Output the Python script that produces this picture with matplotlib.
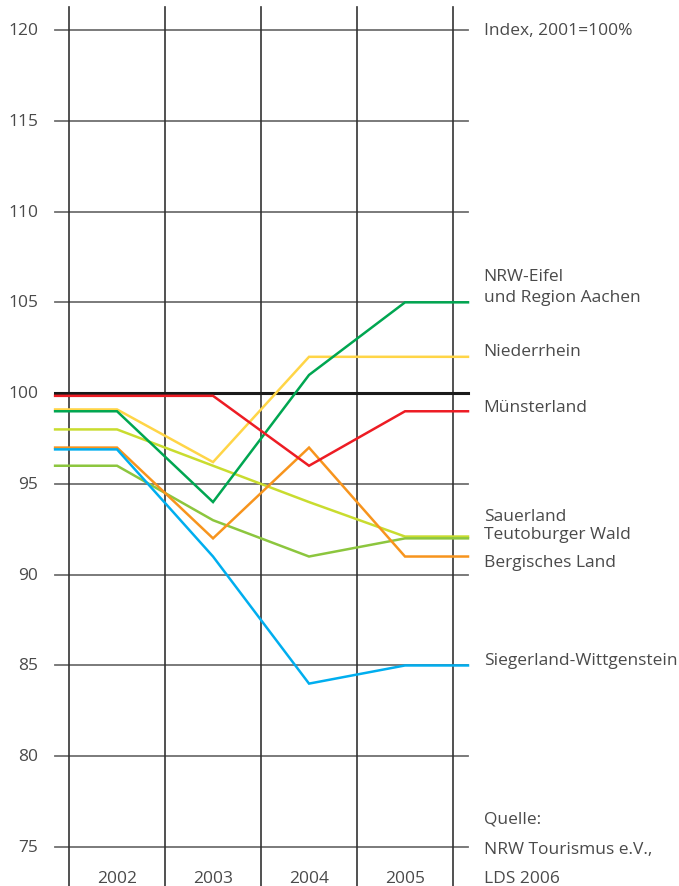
import matplotlib.pyplot as plt
import numpy as np

years = [2002, 2003, 2004, 2005]

# Index values per region, 2001 = 100
muensterland = [99.85, 99.85, 96.0, 99.0]
eifel_aachen = [99.0, 94.0, 101.0, 105.0]
niederrhein = [99.1, 96.2, 102.0, 102.0]
sauerland = [98.0, 96.0, 94.0, 92.1]
teutoburger = [96.0, 93.0, 91.0, 92.0]
bergisches = [97.0, 92.0, 97.0, 91.0]
siegerland = [96.9, 91.0, 84.0, 85.0]

series = [
    (sauerland, '#c9dc2f'),
    (teutoburger, '#8cc63e'),
    (bergisches, '#f7941d'),
    (siegerland, '#00aeef'),
    (niederrhein, '#ffd547'),
    (eifel_aachen, '#00a651'),
    (muensterland, '#ed1c24'),
]

labels = [
    (106.45, 'NRW-Eifel'),
    (105.3, 'und Region Aachen'),
    (102.3, 'Niederrhein'),
    (99.24, 'Münsterland'),
    (93.25, 'Sauerland'),
    (92.25, 'Teutoburger Wald'),
    (90.7, 'Bergisches Land'),
    (85.3, 'Siegerland-Wittgenstein'),
]

yticks = [75, 80, 85, 90, 95, 100, 105, 110, 115, 120]

plt.rcParams['font.family'] = ['Open Sans', 'DejaVu Sans']
txt = '#4a4a4a'
fs = 12.5

fig = plt.figure(figsize=(6.79, 8.87), dpi=100)
ax = fig.add_axes([0, 0, 1, 1])
ax.set_xlim(2000.781, 2007.854)
ax.set_ylim(72.853, 121.707)
ax.axis('off')

x0, x1 = 2001.355, 2005.656

# grid
for y in yticks:
    ax.plot([x0, x1], [y, y], color='#707070', lw=1.3, zorder=1)
    ax.text(2001.18, y, str(y), ha='right', va='center', fontsize=fs, color=txt)
for xv in np.arange(2001.5, 2006, 1.0):
    ax.plot([xv, xv], [72.853, 121.27], color='#333333', lw=1.2, zorder=1)

# reference line at 100
ax.plot([x0, x1], [100, 100], color='#1a1a1a', lw=2.2, zorder=2)

for vals, col in series:
    xs = [x0] + years + [x1]
    ys = [vals[0]] + vals + [vals[-1]]
    ax.plot(xs, ys, color=col, lw=1.8, zorder=3, solid_joinstyle='miter')

lx = 2005.82
ax.text(lx, 120, 'Index, 2001=100%', ha='left', va='center', fontsize=fs, color=txt)
for y, s in labels:
    ax.text(lx, y, s, ha='left', va='center', fontsize=fs, color=txt)

ax.text(lx, 76.55, 'Quelle:', ha='left', va='center', fontsize=fs, color=txt)
ax.text(lx, 74.9, 'NRW Tourismus e.V.,', ha='left', va='center', fontsize=fs, color=txt)
ax.text(lx, 73.3, 'LDS 2006', ha='left', va='center', fontsize=fs, color=txt)

for yr in years:
    ax.text(yr, 73.3, str(yr), ha='center', va='center', fontsize=fs, color=txt)

fig.savefig('out.png', dpi=100)
